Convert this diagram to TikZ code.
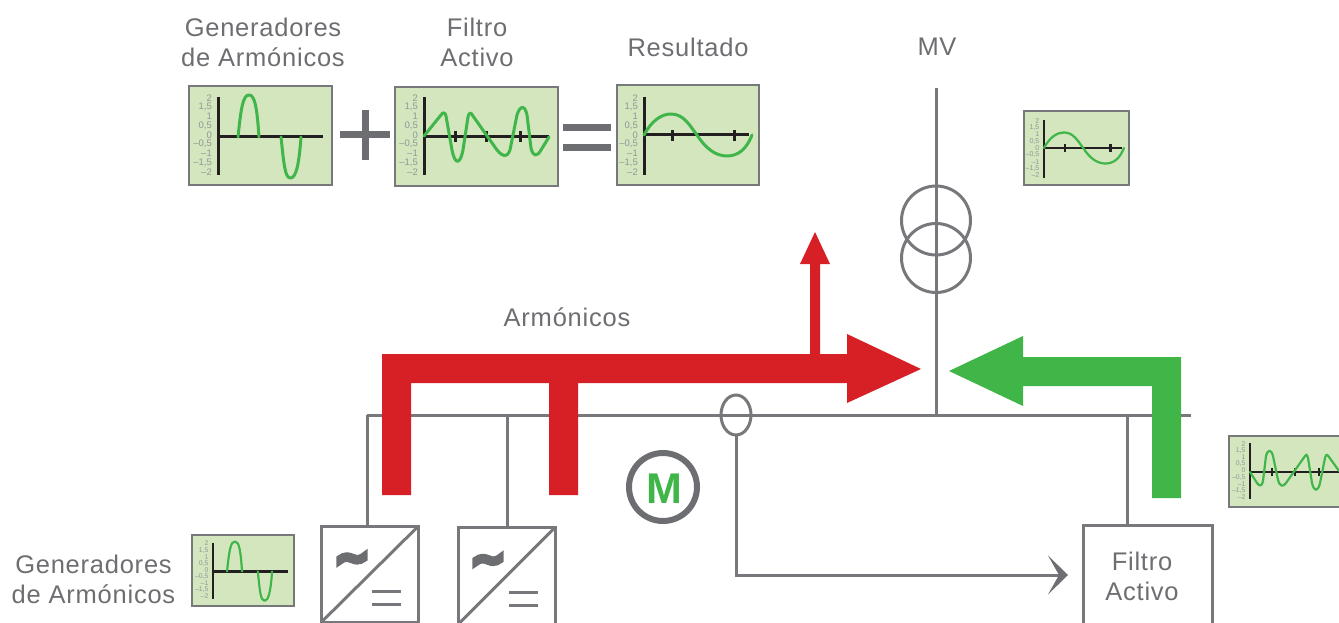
\documentclass[tikz,border=0pt]{standalone}
\usepackage{fontspec}
\setmainfont{Liberation Sans}[LetterSpace=3]
\newfontfamily\tickfont{Liberation Sans}
\newfontfamily\tildefont{DejaVu Sans}[FakeBold=16]
\usetikzlibrary{arrows.meta,shapes.geometric}
\definecolor{gry}{HTML}{6D6E71}
\definecolor{lin}{HTML}{77787B}
\definecolor{panel}{HTML}{D3E6BE}
\definecolor{axisk}{HTML}{231F20}
\definecolor{tickt}{HTML}{939598}
\definecolor{wave}{HTML}{3FB54A}
\definecolor{redf}{HTML}{D71F26}
\definecolor{greenf}{HTML}{40B649}
\tikzset{
  x=1pt,y=-1pt,
  lbl/.style={text=gry,font=\fontsize{25.5}{30}\selectfont,align=center,inner sep=0pt,outer sep=0pt},
  wire/.style={draw=lin,line width=3pt},
  thinshape/.style={draw=lin,line width=3pt,inner sep=0pt,outer sep=0pt},
  conv/.style={draw=lin,line width=3pt,rectangle,inner sep=0pt,outer sep=0pt},
  chartbox/.style={draw=lin,line width=\cW pt,fill=panel,rectangle,inner sep=0pt,outer sep=0pt,transform shape},
  ticktext/.style={text=tickt,font=\tickfont\fontsize{9.5}{9.5}\selectfont,anchor=east,inner sep=0pt,transform shape},
  axisl/.style={draw=axisk,line width=\cA pt},
  wavel/.style={draw=wave,line width=\cA pt,line join=round,line cap=round},
  redarrow/.style={fill=redf,draw=none},
  greenarrow/.style={fill=greenf,draw=none},
  glyphbar/.style={fill=gry,draw=none},
}
% core of a chart: name, x0, y0, w, h, axis x, zero y, axis end x; uses \cS,\cX,\cY
\newcommand{\chartcore}[8]{%
  \pgfmathsetmacro{\dX}{\cX-\cS*#2}%
  \pgfmathsetmacro{\dY}{\cY-\cS*#3}%
  \pgfmathsetmacro{\cA}{3*\cS}%
  \pgfmathsetmacro{\cW}{\cS<0.9?2.2:2.8}%
  \pgfmathsetmacro{\cMX}{#2+#4/2}%
  \pgfmathsetmacro{\cMY}{#3+#5/2}%
  \begin{scope}[shift={(\dX,\dY)},scale=\cS]
    \node[chartbox,minimum width=#4pt,minimum height=#5pt] (#1) at (\cMX,\cMY) {};
    \foreach \i/\t in {0/2,1/{1,5},2/1,3/{0,5},4/0,5/{–0,5},6/–1,7/{–1,5},8/–2}{
      \pgfmathsetmacro{\ty}{98+\i*9.25}
      \pgfmathsetmacro{\tx}{#6-6}
      \node[ticktext] at (\tx,\ty) {\t};
    }
    \draw[axisl] (#6,97) -- (#6,175);
    \draw[axisl] (#6,#7) -- (#8,#7);
    \chartextra
  \end{scope}}
\newcommand{\genchart}[4]{\def\cS{#4}\def\cX{#2}\def\cY{#3}%
  \def\chartextra{%
    \draw[wavel] (238,137) .. controls (241,108) and (243,95) .. (249,95) .. controls (255,95) and (257,108) .. (259,137);
    \draw[wavel] (281,137) .. controls (284,165) and (285,178) .. (290.5,178) .. controls (296,178) and (299,165) .. (301,137);}%
  \chartcore{#1}{189}{86}{143}{99}{218}{137}{323}}
\newcommand{\filterchart}[4]{\def\cS{#4}\def\cX{#2}\def\cY{#3}%
  \def\chartextra{%
    \foreach \tk in {455,486,520}{\draw[axisl] (\tk,131) -- (\tk,142);}
    \draw[wavel] (424,136) -- (441,115) .. controls (443,112) and (445,112) .. (446,116) -- (452,150) .. controls (455,165) and (460,165) .. (463,150) -- (468,117) .. controls (469,112) and (471,112) .. (473,116) -- (497,150) .. controls (503,157) and (507,158) .. (510,150) -- (517,115) .. controls (520,105) and (525,105) .. (527,115) -- (531,148) .. controls (533,157) and (537,157) .. (541,150) -- (549,137);}%
  \chartcore{#1}{395}{87}{163}{99}{424}{136.5}{549}}
\newcommand{\blankchart}[4]{\def\cS{#4}\def\cX{#2}\def\cY{#3}%
  \def\chartextra{}%
  \chartcore{#1}{395}{87}{163}{99}{424}{136.5}{549}}
\newcommand{\resultchart}[4]{\def\cS{#4}\def\cX{#2}\def\cY{#3}%
  \def\chartextra{%
    \foreach \tk in {672,734}{\draw[axisl] (\tk,130) -- (\tk,141);}
    \draw[wavel] (644,135) .. controls (652,120) and (662,114) .. (671,114) .. controls (684,114) and (690,126) .. (697,135) .. controls (706,149) and (716,156) .. (727,156) .. controls (739,156) and (747,148) .. (752,135);}%
  \chartcore{#1}{617}{85}{142}{100}{644}{135}{749}}
\begin{document}
\begin{tikzpicture}
\clip (0,0) rectangle (1339,623);
\useasboundingbox (0,0) rectangle (1339,623);

% labels
\node[lbl] (t1) at (263,42) {Generadores\\de Armónicos};
\node[lbl] (t2) at (477,42) {Filtro\\Activo};
\node[lbl] (t3) at (688,47) {Resultado};
\node[lbl] (t4) at (937,47) {MV};
\node[lbl] (t5) at (567,317) {Armónicos};
\node[lbl] (t6) at (93.5,579.5) {Generadores\\de Armónicos};

% charts
\genchart{cgen}{189}{86}{1}
\filterchart{cfil}{395}{87}{1}
\resultchart{cres}{617}{85}{1}
\resultchart{cmv}{1024}{111}{0.74}
\genchart{cgen2}{192}{535}{0.715}
\blankchart{cfil2}{1229}{436}{0.72}
\foreach \tk in {1272,1295,1319}{\draw[axisl] (\tk,468) -- (\tk,476);}
\draw[wavel] (1250,472) -- (1257,483) .. controls (1260,487) and (1262,486) .. (1263,481) -- (1266,456) .. controls (1268,449) and (1271,449) .. (1273,456) -- (1278,480) .. controls (1280,487) and (1283,487) .. (1286,483) -- (1305,456) .. controls (1306,454) and (1307,454) .. (1308,458) -- (1312,483) .. controls (1314,492) and (1318,492) .. (1320,483) -- (1325,458) .. controls (1326,454) and (1327,454) .. (1329,457) -- (1339,471);

% plus and equals
\fill[glyphbar] (340,131.5) rectangle (390,138.5);
\fill[glyphbar] (361.5,110) rectangle (368.5,160);
\fill[glyphbar] (563,124) rectangle (611,131);
\fill[glyphbar] (563,144) rectangle (611,151);

% equipment
\coordinate (busL) at (367,415);
\coordinate (busR) at (1191,415);
\coordinate (tapB) at (507,415);
\coordinate (tapF) at (1127,415);
\coordinate (mvT) at (936,88);
\coordinate (mvB) at (936,415);
\coordinate (fa) at (1068,575);
\node[conv,minimum width=97pt,minimum height=96pt] (conv1) at (370,574) {};
\node[conv,minimum width=97pt,minimum height=97pt] (conv2) at (507,575.5) {};
\node[conv,minimum width=129pt,minimum height=100pt] (filtro) at (1147.5,575) {};
\node[lbl] (ftxt) at (1142,576.5) {Filtro\\Activo};
\node[thinshape,circle,minimum size=69pt] (tr1) at (936,220.5) {};
\node[thinshape,circle,minimum size=69pt] (tr2) at (936,258) {};
\node[thinshape,ellipse,minimum width=30pt,minimum height=40pt] (ct) at (736,415) {};
\node[draw=gry,line width=6pt,circle,minimum size=68pt,inner sep=0pt,outer sep=0pt] (motor) at (663,487) {};
\node[inner sep=0pt,text=greenf,font=\fontsize{43}{43}\bfseries\selectfont] (motorM) at ([yshift=-2pt,xshift=1pt]motor.center) {M};

\draw[wire] (busL) -- (busR);
\draw[wire] (busL) -- (busL |- conv1.north);
\draw[wire] (tapB) -- (tapB |- conv2.north);
\draw[wire] (tapF) -- (tapF |- filtro.north);
\draw[wire] (mvT) -- (mvB);
\draw[conv] (conv1.south west) -- (conv1.north east);
\draw[conv] (conv2.south west) -- (conv2.north east);
\draw[wire,-{Stealth[length=20pt,width=39pt,inset=11pt,color=gry,fill=gry]}] (ct.south) |- (fa);

% converter symbols
\node[text=gry,inner sep=0pt,font=\tildefont\fontsize{40}{40}\selectfont] (tilde1) at ([xshift=-18pt,yshift=11pt]conv1.center) {\char"7E};
\node[text=gry,inner sep=0pt,font=\tildefont\fontsize{40}{40}\selectfont] (tilde2) at ([xshift=-19pt,yshift=11pt]conv2.center) {\char"7E};
\draw[wire] ([xshift=1.5pt,yshift=-17pt]conv1.center) -- +(29,0);
\draw[wire] ([xshift=1.5pt,yshift=-30.5pt]conv1.center) -- +(29,0);
\draw[wire] ([xshift=2pt,yshift=-16.5pt]conv2.center) -- +(29,0);
\draw[wire] ([xshift=2pt,yshift=-30pt]conv2.center) -- +(29,0);

% power flow arrows
\fill[redarrow] (382,495) -- (382,354) -- (847,354) -- (847,334) -- (921,369) -- (847,403) -- (847,383) -- (578,383) -- (578,495) -- (549,495) -- (549,383) -- (411,383) -- (411,495) -- cycle;
\fill[redarrow] (810,354) -- (810,264) -- (800,264) -- (815,232) -- (830,264) -- (820,264) -- (820,354) -- cycle;
\fill[greenarrow] (1181,498) -- (1181,357) -- (1023,357) -- (1023,336) -- (949,371) -- (1023,406) -- (1023,386) -- (1152,386) -- (1152,498) -- cycle;
\end{tikzpicture}
\end{document}
